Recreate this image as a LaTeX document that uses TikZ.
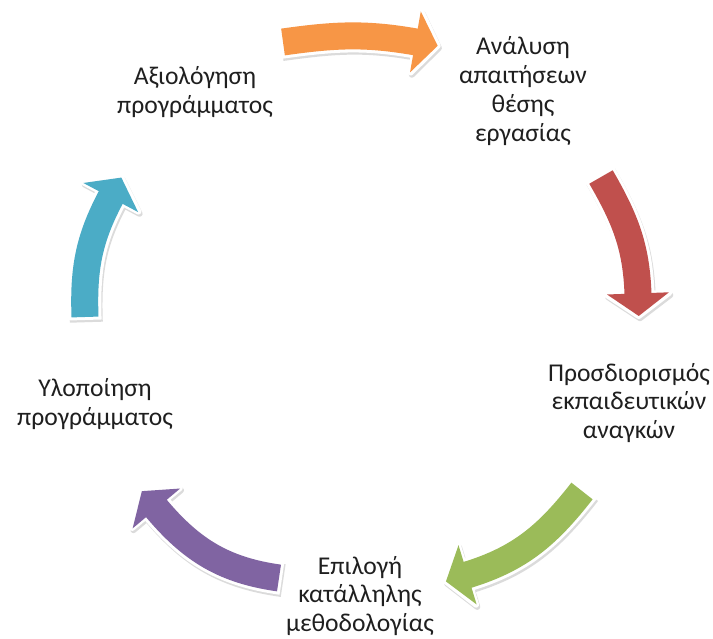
\documentclass[tikz,border=0pt]{standalone}
\usepackage{fontspec}
\setmainfont{Carlito}
\usetikzlibrary{calc}
\definecolor{aorange}{HTML}{F79646}
\definecolor{ared}{HTML}{C0504D}
\definecolor{agreen}{HTML}{9BBB59}
\definecolor{apurple}{HTML}{8064A2}
\definecolor{ateal}{HTML}{4BACC6}
\definecolor{shadowc}{gray}{0.86}
\tikzset{lbl/.style={align=center, text=black!88, font=\fontsize{25.6}{28.8}\selectfont, inner sep=0pt}}
% #1 name, #2 colour, #3 tail, #4 out angle, #5 head base, #6 head direction
\newcommand\cyclearrow[6]{%
  \coordinate (#1t) at #3;
  \coordinate (#1h) at #5;
  \coordinate (#1ts) at ($(#1t)+(1.2,-2.2)$);
  \coordinate (#1hs) at ($(#1h)+(1.2,-2.2)$);
  \pgfmathsetmacro\arrin{#6+180}%
  \pgfmathsetmacro\arrl{#6+90}%
  \pgfmathsetmacro\arrr{#6-90}%
  \draw[shadowc, line width=33, shorten <=-3] (#1ts) to[out=#4,in=\arrin] (#1hs);
  \fill[shadowc, draw=shadowc, line width=6, line join=round] ($(#1hs)+(\arrl:31)$) -- ($(#1hs)+(#6:22)$) -- ($(#1hs)+(\arrr:31)$) -- cycle;
  \draw[white, line width=33, shorten <=-3] (#1t) to[out=#4,in=\arrin] (#1h);
  \fill[white, draw=white, line width=6, line join=round] ($(#1h)+(\arrl:31)$) -- ($(#1h)+(#6:22)$) -- ($(#1h)+(\arrr:31)$) -- cycle;
  \draw[#2, line width=27] (#1t) to[out=#4,in=\arrin] (#1h);
  \fill[#2] ($(#1h)+(\arrl:31)+(\arrin:0.6)$) -- ($(#1h)+(#6:22)$) -- ($(#1h)+(\arrr:31)+(\arrin:0.6)$) -- cycle;
}
\begin{document}
\begin{tikzpicture}[x=1pt,y=1pt]
\useasboundingbox (0,0) rectangle (713,-639);
\cyclearrow{ao}{aorange}{(283,-42)}{8}{(416,-42)}{-10}
\cyclearrow{ar}{ared}{(601,-177)}{-60}{(638,-294)}{-88}
\cyclearrow{ag}{agreen}{(582,-491)}{-128}{(467,-575)}{-163}
\cyclearrow{ap}{apurple}{(279,-578)}{172}{(156,-508)}{130}
\cyclearrow{at}{ateal}{(85,-317)}{92}{(111,-197)}{62}
\node[lbl] (n1) at (523,-91) {Ανάλυση\\απαιτήσεων\\θέσης\\εργασίας};
\node[lbl] (n2) at (629,-403) {Προσδιορισμός\\εκπαιδευτικών\\αναγκών};
\node[lbl] (n3) at (360,-596) {Επιλογή\\κατάλληλης\\μεθοδολογίας};
\node[lbl] (n4) at (95,-404) {Υλοποίηση\\προγράμματος};
\node[lbl] (n5) at (195,-92) {Αξιολόγηση\\προγράμματος};
\end{tikzpicture}
\end{document}
